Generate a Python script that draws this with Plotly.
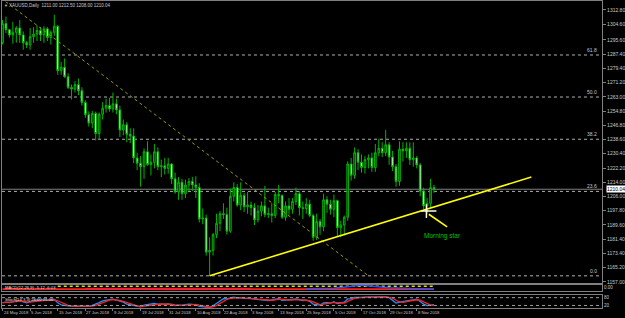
import plotly.graph_objects as go

# ---------------- data ----------------
bar_index = list(range(126))
opens = [1294, 1305, 1301.5, 1298.5, 1300, 1302.5, 1298.5, 1294, 1292.8, 1297.5,
         1299, 1301, 1298.5, 1302, 1297, 1300, 1303.5, 1278, 1280, 1274.5,
         1268.3, 1267.5, 1270, 1266.5, 1259.7, 1252.8, 1248, 1253.5, 1242, 1253,
         1256.5, 1258, 1256, 1259, 1255.5, 1244, 1247, 1241.5, 1240.5, 1228,
         1225, 1223, 1231.5, 1224.2, 1225.5, 1231.5, 1223, 1223.5, 1222, 1224.5,
         1216, 1208.5, 1214, 1207.5, 1212.5, 1214.5, 1212.5, 1211, 1193, 1193.5,
         1174, 1175, 1184, 1190.5, 1196, 1195.5, 1186, 1206, 1211, 1201,
         1206.5, 1200, 1201, 1199.5, 1192.5, 1197.5, 1200.5, 1195.5, 1196, 1195,
         1207, 1206.5, 1194, 1200.5, 1198.5, 1203, 1207.5, 1199.5, 1199, 1201.5,
         1195, 1182.5, 1191.5, 1188.5, 1204, 1201.5, 1198.5, 1203.5, 1188, 1189.5,
         1194, 1224.5, 1218, 1231, 1225.5, 1222.5, 1227, 1228, 1222.5, 1231,
         1233.5, 1231, 1235.5, 1228.5, 1223, 1214.5, 1233, 1232, 1233.5, 1227,
         1228, 1224, 1209, 1200.5, 1202, 1211]
highs = [1307, 1309, 1302, 1306, 1303.5, 1307, 1300.5, 1295, 1302.5, 1303,
         1304, 1303, 1303.5, 1303, 1301, 1310, 1304, 1283, 1285, 1276.5,
         1270, 1272, 1273.5, 1268.5, 1261, 1254.7, 1255, 1254.5, 1254, 1260,
         1262, 1262.5, 1265.5, 1262, 1258, 1250, 1248.5, 1245, 1245, 1231,
         1229, 1233.5, 1237.5, 1230, 1236, 1234, 1227, 1228, 1228, 1225,
         1219.5, 1217, 1216, 1215.5, 1216.5, 1217, 1217.5, 1213.5, 1199, 1195.5,
         1182.5, 1185, 1196, 1197.5, 1202, 1199.5, 1210.5, 1214, 1213, 1214,
         1208, 1208.5, 1203, 1202, 1201, 1203, 1212, 1199.5, 1202, 1208.5,
         1212.5, 1207, 1203, 1205, 1205, 1211, 1209, 1203, 1205, 1204,
         1196, 1196, 1193, 1207.5, 1206, 1204, 1207, 1204, 1192, 1195,
         1226, 1228, 1234, 1233, 1230, 1229, 1230, 1231, 1236, 1239,
         1237, 1244, 1237, 1232, 1224.5, 1237.5, 1237, 1237, 1237, 1237,
         1229, 1225, 1211, 1205, 1216, 1212.5]
lows = [1293, 1299.5, 1297, 1293.5, 1294, 1294, 1290, 1291, 1290, 1294,
        1295, 1295, 1294, 1295, 1293, 1298, 1275.6, 1275.6, 1274, 1267.5,
        1261.5, 1265.5, 1264, 1258, 1251, 1246, 1245, 1238, 1238.5, 1250,
        1254, 1254.5, 1254, 1253, 1240, 1241, 1237, 1236.5, 1225, 1221,
        1211.5, 1216, 1223.5, 1218, 1222, 1221, 1217, 1218.5, 1219, 1213,
        1207.5, 1204, 1204, 1205, 1209, 1209, 1205, 1191, 1190, 1172,
        1160.4, 1172, 1182, 1186, 1193, 1184, 1185, 1203, 1200, 1198,
        1197, 1196, 1195, 1189.5, 1191, 1194.5, 1194, 1193.5, 1191, 1193.5,
        1202, 1193, 1192, 1195.5, 1196, 1201, 1195, 1193, 1196, 1194,
        1180.5, 1181, 1184, 1186, 1196.5, 1195.5, 1194, 1183, 1182.5, 1183.5,
        1192, 1215, 1216, 1221, 1219.5, 1219, 1222, 1220, 1220, 1229,
        1228.5, 1229, 1224, 1220.5, 1211.5, 1212, 1226, 1228, 1224, 1223,
        1222, 1206, 1198.5, 1196, 1199.5, 1208]
closes = [1305, 1301.5, 1298.5, 1300, 1302.5, 1298.5, 1294, 1292.8, 1297.5, 1299,
          1301, 1298.5, 1302, 1297, 1300, 1303.5, 1278, 1280, 1274.5, 1268.3,
          1267.5, 1270, 1266.5, 1259.7, 1252.8, 1248, 1253.5, 1242, 1253, 1256.5,
          1258, 1256, 1259, 1255.5, 1244, 1247, 1241.5, 1240.5, 1228, 1225,
          1223, 1231.5, 1224.2, 1225.5, 1231.5, 1223, 1223.5, 1222, 1224.5, 1216,
          1208.5, 1214, 1207.5, 1212.5, 1214.5, 1212.5, 1211, 1193, 1193.5, 1174,
          1175, 1184, 1190.5, 1196, 1195.5, 1186, 1206, 1211, 1201, 1206.5,
          1200, 1201, 1199.5, 1192.5, 1197.5, 1200.5, 1195.5, 1196, 1195, 1207,
          1206.5, 1194, 1200.5, 1198.5, 1203, 1207.5, 1199.5, 1199, 1201.5, 1195,
          1182.5, 1191.5, 1188.5, 1204, 1201.5, 1198.5, 1203.5, 1188, 1189.5, 1194,
          1224.5, 1218, 1231, 1225.5, 1222.5, 1227, 1228, 1222.5, 1231, 1233.5,
          1231, 1235.5, 1228.5, 1223, 1214.5, 1233, 1232, 1233.5, 1227, 1228,
          1224, 1209, 1200.5, 1202, 1211, 1210.04]

stoch_k = [40, 45, 42, 50, 55, 55, 48, 40, 50, 58,
           62, 60, 64, 60, 62, 66, 40, 25, 20, 14,
           12, 15, 14, 12, 10, 12, 20, 28, 42, 55,
           62, 65, 68, 60, 48, 45, 30, 25, 15, 12,
           10, 22, 25, 28, 35, 30, 28, 30, 32, 26,
           18, 22, 20, 26, 30, 28, 25, 12, 8, 5,
           4, 18, 35, 55, 72, 70, 80, 84, 78, 80,
           75, 76, 72, 68, 65, 62, 60, 58, 62, 70,
           72, 60, 62, 60, 66, 70, 62, 58, 60, 52,
           30, 28, 22, 40, 42, 38, 48, 35, 38, 45,
           70, 72, 82, 80, 82, 84, 85, 84, 86, 85,
           84, 86, 80, 62, 38, 45, 50, 55, 58, 66,
           68, 50, 30, 18, 20, 26]
stoch_d = [42, 43, 42, 46, 49, 53, 53, 48, 46, 49,
           57, 60, 62, 61, 62, 63, 56, 44, 28, 20,
           15, 14, 14, 14, 12, 11, 14, 20, 30, 42,
           53, 61, 65, 64, 59, 51, 41, 33, 23, 17,
           12, 15, 19, 25, 29, 31, 31, 29, 30, 29,
           25, 22, 20, 23, 25, 28, 28, 22, 15, 8,
           6, 9, 19, 36, 54, 66, 74, 78, 81, 81,
           78, 77, 74, 72, 68, 65, 62, 60, 60, 63,
           68, 68, 65, 61, 63, 65, 66, 63, 60, 57,
           47, 37, 27, 30, 35, 41, 43, 40, 40, 39,
           51, 62, 75, 78, 81, 82, 84, 84, 85, 85,
           85, 85, 83, 76, 60, 48, 44, 50, 54, 60,
           64, 61, 49, 33, 23, 21]

ind_idx = [0, 8, 16, 24, 32, 40, 48, 56, 64, 72, 80, 88, 96, 104, 112, 120, 125]
ind_yellow = [None, None, 0.75, 0.75, 0.75, 0.75, 0.75, 0.75, 0.75, 0.75, 0.75, 0.75, 0.75, 0.75, 0.75, 0.75, 0.75]
ind_red = [0.3, 0.32, 0.3, 0.28, 0.3, 0.3, 0.28, 0.3, 0.32, 0.3, 0.3, 0.28, 0.3, 0.3, 0.3, 0.3, 0.3]
ind_magenta = [None, None, None, 0.4, 0.42, 0.4, 0.42, 0.4, 0.4, 0.38, None, None, None, None, None, None, None]
ind_blue = [None, None, None, None, None, None, None, None, None, None, None, 0.35, 0.45, 0.9, 0.5, 0.35, 0.3]

date_tick_idx = [0, 8, 16, 24, 32, 40, 48, 56, 64, 72, 80, 88, 96, 104, 112, 120]
date_tick_text = ["24 May 2018", "5 Jun 2018", "15 Jun 2018", "27 Jun 2018", "9 Jul 2018",
                  "19 Jul 2018", "31 Jul 2018", "10 Aug 2018", "22 Aug 2018", "3 Sep 2018",
                  "13 Sep 2018", "25 Sep 2018", "5 Oct 2018", "17 Oct 2018", "29 Oct 2018",
                  "8 Nov 2018"]
price_ticks = [1312.80, 1304.60, 1295.60, 1287.40, 1279.40, 1271.20, 1263.00, 1254.80,
               1246.80, 1238.60, 1230.40, 1222.20, 1214.00, 1206.00, 1197.80, 1189.60,
               1181.40, 1173.40, 1165.20, 1157.00]

fib_names = ["61.8", "50.0", "38.2", "23.6", "0.0"]
fib_prices = [1287.0, 1262.9, 1238.7, 1208.8, 1160.4]
fib_diag_x = [-31, 106]
fib_diag_y = [1365.3, 1160.4]
trend_x = [60, 153.2]
trend_y = [1160.4, 1217.0]
note_x = [123.5, 128.8]
note_y = [1195.7, 1188.5]
bid_price = 1210.04

FONT = "Liberation Sans"
GRAY = "#808080"
LBL = "#c8c8c8"

fig = go.Figure()

fig.add_trace(go.Candlestick(
    x=bar_index, open=opens, high=highs, low=lows, close=closes,
    increasing=dict(line=dict(color="#00b400", width=1), fillcolor="#003c00"),
    decreasing=dict(line=dict(color="#00b400", width=1), fillcolor="#e6ffe6"),
    whiskerwidth=0, xaxis="x", yaxis="y", showlegend=False, hoverinfo="skip"))

fig.add_trace(go.Scatter(x=fib_diag_x, y=fib_diag_y, mode="lines",
                         line=dict(color="#9a9a00", width=1, dash="dot"),
                         xaxis="x", yaxis="y", showlegend=False, hoverinfo="skip"))
fig.add_trace(go.Scatter(x=trend_x, y=trend_y, mode="lines",
                         line=dict(color="#ffff00", width=1.6),
                         xaxis="x", yaxis="y", showlegend=False, hoverinfo="skip"))
fig.add_trace(go.Scatter(x=note_x, y=note_y, mode="lines",
                         line=dict(color="#ffff00", width=1.6),
                         xaxis="x", yaxis="y", showlegend=False, hoverinfo="skip"))

# indicator strip
fig.add_trace(go.Scatter(x=ind_idx, y=ind_yellow, mode="lines",
                         line=dict(color="#e0e000", width=1.5, dash="dot"),
                         xaxis="x2", yaxis="y2", showlegend=False, hoverinfo="skip"))
fig.add_trace(go.Scatter(x=ind_idx, y=ind_magenta, mode="lines",
                         line=dict(color="#c000c0", width=1.5),
                         xaxis="x2", yaxis="y2", showlegend=False, hoverinfo="skip"))
fig.add_trace(go.Scatter(x=ind_idx, y=ind_red, mode="lines",
                         line=dict(color="#ff2020", width=1.8),
                         xaxis="x2", yaxis="y2", showlegend=False, hoverinfo="skip"))
fig.add_trace(go.Scatter(x=ind_idx, y=ind_blue, mode="lines",
                         line=dict(color="#3050ff", width=1.5),
                         xaxis="x2", yaxis="y2", showlegend=False, hoverinfo="skip"))

# stochastic
fig.add_trace(go.Scatter(x=bar_index, y=stoch_k, mode="lines",
                         line=dict(color="#1e90ff", width=1.3),
                         xaxis="x3", yaxis="y3", showlegend=False, hoverinfo="skip"))
fig.add_trace(go.Scatter(x=bar_index, y=stoch_d, mode="lines",
                         line=dict(color="#ff2020", width=1.3),
                         xaxis="x3", yaxis="y3", showlegend=False, hoverinfo="skip"))

shapes = []
for p in fib_prices:
    shapes.append(dict(type="line", xref="x domain", yref="y", x0=0, x1=1, y0=p, y1=p,
                       line=dict(color="#b0b0b0", width=1, dash="dot"), layer="below"))
shapes.append(dict(type="line", xref="x domain", yref="y", x0=0, x1=1, y0=bid_price, y1=bid_price,
                   line=dict(color=GRAY, width=1), layer="below"))
for lv in [80, 20]:
    shapes.append(dict(type="line", xref="x3 domain", yref="y3", x0=0, x1=1, y0=lv, y1=lv,
                       line=dict(color="#a0a0a0", width=1, dash="dot")))
# cursor cross
shapes.append(dict(type="line", xref="x", yref="y", x0=121.3, x1=125.7, y0=1197.5, y1=1197.5,
                   line=dict(color="#ffffe0", width=1.5)))
shapes.append(dict(type="line", xref="x", yref="y", x0=122.8, x1=122.8, y0=1193.5, y1=1201.5,
                   line=dict(color="#ffffe0", width=1.5)))

ann = []
for name, p in zip(fib_names, fib_prices):
    ann.append(dict(xref="x domain", yref="y", x=0.995, y=p, text=name, showarrow=False,
                    xanchor="right", yanchor="bottom", font=dict(family=FONT, size=5, color=LBL)))
ann.append(dict(xref="x domain", yref="y", x=1.006, y=bid_price, text=f"{bid_price:.2f}",
                showarrow=False, xanchor="left", yanchor="middle", bgcolor="#ffffff",
                borderpad=0, font=dict(family=FONT, size=5, color="#000000")))
for i, t in zip(date_tick_idx, date_tick_text):
    ann.append(dict(xref="x3", yref="paper", x=i, y=1 - 313.5 / 318, text=t, showarrow=False,
                    xanchor="left", yanchor="middle", xshift=-1,
                    font=dict(family=FONT, size=4.2, color=LBL)))
title_txt = f"XAUUSD,Daily  {opens[-1]:.2f} {highs[-1]:.2f} {lows[-1]:.2f} {closes[-1]:.2f}"
ann.append(dict(xref="paper", yref="paper", x=7 / 625, y=1 - 6 / 318, text=title_txt,
                showarrow=False, xanchor="left", yanchor="middle",
                font=dict(family=FONT, size=4.5, color=LBL)))
ann.append(dict(xref="paper", yref="paper", x=2.5 / 625, y=1 - 6 / 318, text="▼",
                showarrow=False, xanchor="left", yanchor="middle",
                font=dict(family=FONT, size=4, color=LBL)))
ann.append(dict(xref="x", yref="y", x=127.6, y=1183.1, text="Morning star", showarrow=False,
                xanchor="center", yanchor="middle", font=dict(family=FONT, size=6.5, color="#00c000")))
ann.append(dict(xref="paper", yref="paper", x=3 / 625, y=1 - 288 / 318, text="MACD(12,26,9) -5.12 -6.03",
                showarrow=False, xanchor="left", yanchor="middle",
                font=dict(family=FONT, size=4.2, color="#e0e0e0")))
ann.append(dict(xref="paper", yref="paper", x=3 / 625, y=1 - 300.5 / 318,
                text=f"Stoch(14,3,3) {stoch_k[-1]:.2f} {stoch_d[-1]:.2f}",
                showarrow=False, xanchor="left", yanchor="middle",
                font=dict(family=FONT, size=4.2, color="#e0e0e0")))

xdom = [2 / 625, 606 / 625]
xr = [-0.15, 173.7]
axis_common = dict(showgrid=False, zeroline=False, showline=True, mirror=True,
                   linecolor=GRAY, linewidth=1)

fig.update_layout(
    width=625, height=318, margin=dict(l=0, r=0, t=0, b=0),
    paper_bgcolor="#000000", plot_bgcolor="#000000",
    showlegend=False, shapes=shapes, annotations=ann,
    xaxis=dict(domain=xdom, range=xr, anchor="y", showticklabels=False, ticks="",
               rangeslider=dict(visible=False), **axis_common),
    yaxis=dict(domain=[1 - 284 / 318, 1 - 1.5 / 318], range=[1156.23, 1317.66], side="right",
               anchor="x", tickvals=price_ticks, ticktext=[f"{v:.2f}" for v in price_ticks],
               ticks="outside", ticklen=3, tickcolor=GRAY,
               tickfont=dict(family=FONT, size=5, color=LBL), **axis_common),
    xaxis2=dict(domain=xdom, range=xr, anchor="y2", matches="x", showticklabels=False, ticks="",
                **axis_common),
    yaxis2=dict(domain=[1 - 292 / 318, 1 - 285.5 / 318], range=[0, 1], side="right", anchor="x2",
                tickvals=[0.5], ticktext=["0.00"], ticks="",
                tickfont=dict(family=FONT, size=4.5, color=LBL), **axis_common),
    xaxis3=dict(domain=xdom, range=xr, anchor="y3", matches="x", showticklabels=False,
                tickvals=date_tick_idx, ticks="outside", ticklen=2, tickcolor=GRAY, **axis_common),
    yaxis3=dict(domain=[1 - 309 / 318, 1 - 296 / 318], range=[0, 100], side="right", anchor="x3",
                tickvals=[80, 20], ticktext=["80", "20"], ticks="",
                tickfont=dict(family=FONT, size=4.5, color=LBL), **axis_common),
)

fig.write_html("out.html")
